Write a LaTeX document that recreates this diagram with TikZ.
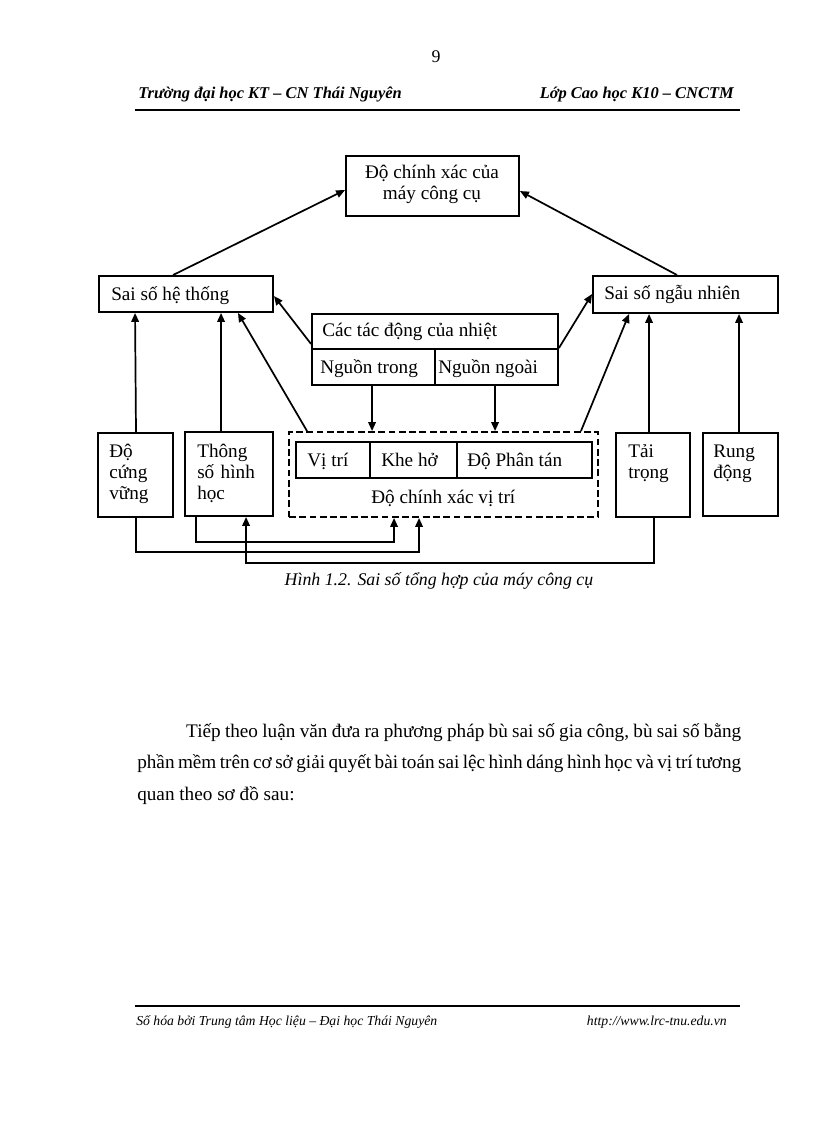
\documentclass[tikz,border=0pt]{standalone}
\usepackage{fontspec}
\setmainfont{Liberation Serif}
\usetikzlibrary{fit,calc,arrows.meta}
\begin{document}
\begin{tikzpicture}[x=0.7292pt,y=-0.7292pt,
  box/.style={draw,line width=1.4pt,inner sep=0pt},
  dbox/.style={draw,line width=1.4pt,inner sep=0pt,dash pattern=on 5pt off 2.5pt},
  arr/.style={line width=1.25pt,-{Triangle[length=6.5pt,width=5.5pt]}},
  txt/.style={inner sep=0pt,anchor=base west,font=\fontsize{14}{15.4}\selectfont},
  mtxt/.style={inner sep=0pt,anchor=base west,align=left,text width=60pt,font=\fontsize{14}{15.6}\selectfont},
  hdr/.style={inner sep=0pt,font=\fontsize{12}{14}\selectfont\bfseries\itshape},
  ftr/.style={inner sep=0pt,font=\fontsize{10}{12}\selectfont\itshape}]
\useasboundingbox[fill=white] (0,0) rectangle (816,1123);

% header and footer
\node[inner sep=0pt,anchor=base,font=\fontsize{13}{15}\selectfont] (pnum) at (436,63) {9};
\node[hdr,anchor=base west] (hl) at (138,99) {Trường đại học KT – CN Thái Nguyên};
\node[hdr,anchor=base east] (hr) at (734,99) {Lớp Cao học K10 – CNCTM};
\draw[line width=1.6pt] (135,110) -- (740,110);
\draw[line width=1.6pt] (135,1006) -- (740,1006);
\node[ftr,anchor=base west] (fl) at (136,1025) {Số hóa bởi Trung tâm Học liệu – Đại học Thái Nguyên};
\node[ftr,anchor=base east] (fr) at (727,1025) {http://www.lrc-tnu.edu.vn};

% boxes
\node[box,fit={(346,156)(519,216)}] (top) {};
\node[box,fit={(99,276)(273,312)}] (sht) {};
\node[box,fit={(593,276)(778,313)}] (snn) {};
\node[box,fit={(312,314)(558,349)}] (nhiet) {};
\node[box,fit={(312,349)(435,385)}] (ntrong) {};
\node[box,fit={(435,349)(558,385)}] (nngoai) {};
\node[dbox,fit={(289,432)(598,517)}] (dcx) {};
\node[box,fit={(296,442)(370,478)}] (vitri) {};
\node[box,fit={(370,442)(457,478)}] (khe) {};
\node[box,fit={(457,442)(592,478)}] (pt) {};
\node[box,fit={(98,433)(173,517)}] (dcv) {};
\node[box,fit={(185,432)(273,516)}] (ts) {};
\node[box,fit={(616,433)(690,517)}] (tt) {};
\node[box,fit={(703,433)(778,516)}] (rd) {};

% texts
\node[inner sep=0pt,anchor=base,align=center,font=\fontsize{14}{16}\selectfont] (ttop) at (432,200) {Độ chính xác của\\máy công cụ};
\node[txt] (tsht) at (111,301) {Sai số hệ thống};
\node[txt] (tsnn) at (604,300) {Sai số ngẫu nhiên};
\node[txt] (tnhiet) at (322,337) {Các tác động của nhiệt};
\node[txt] (tntrong) at (320,373) {Nguồn trong};
\node[txt] (tnngoai) at (438,373) {Nguồn ngoài};
\node[txt] (tvitri) at (307,466) {Vị trí};
\node[txt] (tkhe) at (381,466) {Khe hở};
\node[txt] (tpt) at (467,466) {Độ Phân tán};
\node[txt] (tdcx) at (371,503) {Độ chính xác vị trí};
\node[mtxt] (tdcv) at (109,457) {Độ\\cứng\\vững};
\node[mtxt] (tts) at (197,457) {Thông\\số hình\\học};
\node[mtxt] (ttt) at (628,457) {Tải\\trọng};
\node[mtxt] (trd) at (713,457) {Rung\\động};

% connectors
\draw[arr] ($(sht.north west)+(75,0)$) -- ($(top.north west)+(0,35)$);
\draw[arr] ($(snn.north west)+(85,0)$) -- ($(top.north east)+(0,36)$);
\draw[arr] ($(dcv.north)+(0.5,0)$) -- ($(sht.south west)+(37,0)$);
\draw[arr] ($(ts.north west)+(37,0)$) -- ($(sht.south west)+(123,0)$);
\draw[arr] ($(dcx.north west)+(19,0)$) -- ($(sht.south east)+(-36,0)$);
\draw[arr] ($(nhiet.south west)+(0,-6)$) -- ($(sht.north east)+(0,21)$);
\draw[arr] ($(nhiet.south east)+(0,-2)$) -- ($(snn.north west)+(0,19)$);
\draw[arr] ($(dcx.north east)+(-18,0)$) -- ($(snn.south west)+(37,0)$);
\draw[arr] ($(tt.north west)+(34,0)$) -- ($(snn.south west)+(57,0)$);
\draw[arr] ($(rd.north west)+(37,0)$) -- ($(snn.south west)+(147,0)$);
\draw[arr] ($(ntrong.south west)+(61,0)$) -- ($(dcx.north west)+(84,0)$);
\draw[arr] ($(nngoai.south west)+(61,0)$) -- ($(dcx.north west)+(207,0)$);
\draw[arr] ($(ts.south west)+(12,0)$) -- ++(0,25) -| ($(dcx.south west)+(106,0)$);
\draw[arr] ($(dcv.south)+(0.5,0)$) -- ++(0,34) -| ($(dcx.south west)+(131,0)$);
\draw[arr] ($(tt.south west)+(39,0)$) -- ++(0,45) -| ($(ts.south west)+(62,0)$);

% caption
\node[inner sep=0pt,anchor=base,font=\fontsize{13}{15}\selectfont\itshape] (cap) at (439,585) {Hình 1.2. Sai số tổng hợp của máy công cụ};

% paragraph
\node[inner sep=0pt,anchor=base west,text width=440.4pt,align=justify,font=\fontsize{14}{23.3}\selectfont] (para) at (137,737)
{\hspace*{35.7pt}Tiếp theo luận văn đưa ra phương pháp bù sai số gia công, bù sai số bằng\linebreak
phần mềm trên cơ sở giải quyết bài toán sai lệc hình dáng hình học và vị trí tương\linebreak
quan theo sơ đồ sau:};
\end{tikzpicture}
\end{document}
